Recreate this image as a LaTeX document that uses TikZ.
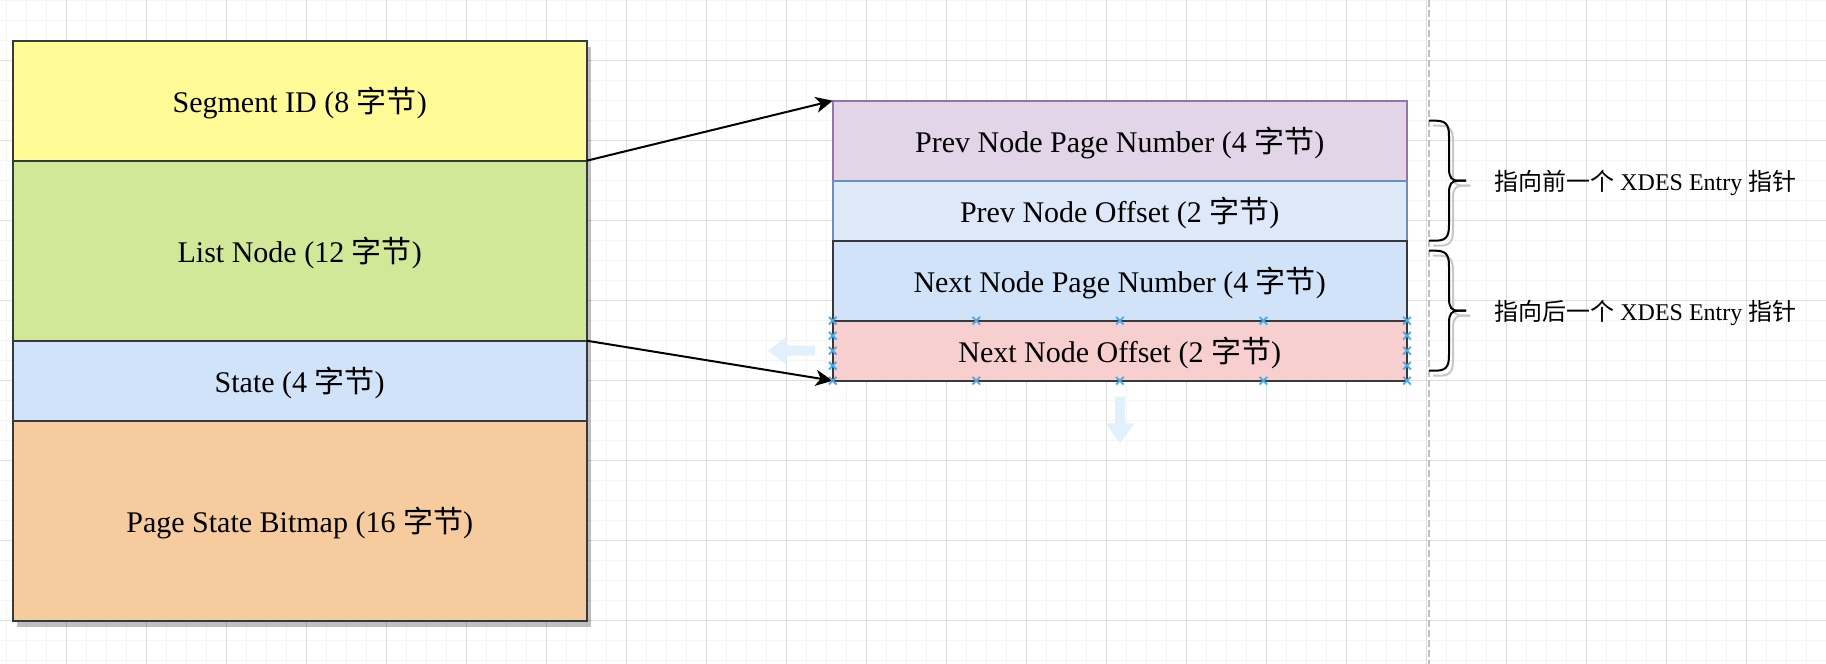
\documentclass[tikz,border=0pt]{standalone}
\usepackage{fontspec}
\setmainfont{Liberation Serif}
\newfontfamily\cjk{Noto Sans CJK SC}
\usetikzlibrary{arrows.meta}
\definecolor{edgedark}{HTML}{36393D}
\definecolor{cyellow}{HTML}{FFFC97}
\definecolor{cgreen}{HTML}{D2E899}
\definecolor{cblue}{HTML}{D0E3F9}
\definecolor{corange}{HTML}{F6CB9E}
\definecolor{cpurple}{HTML}{E1D5E7}
\definecolor{spurple}{HTML}{9673A6}
\definecolor{clblue}{HTML}{DDE8F8}
\definecolor{sblue}{HTML}{6C8EBF}
\definecolor{cred}{HTML}{F7CFCE}
\definecolor{gridmajor}{HTML}{DEDEDE}
\definecolor{gridminor}{HTML}{F4F4F4}
\definecolor{pagebreak}{HTML}{C0C0C0}
\definecolor{handle}{HTML}{4AA8EC}
\definecolor{ghost}{HTML}{E2F0FB}
\newcommand{\zh}[1]{{\cjk #1}}
\newcommand{\handlex}[2]{\draw[handlestyle] (#1-3.8,#2-3.8) -- (#1+3.8,#2+3.8) (#1-3.8,#2+3.8) -- (#1+3.8,#2-3.8);}
\begin{document}
\begin{tikzpicture}[x=0.5pt,y=-0.5pt,
  part/.style={draw=edgedark, line width=1pt, inner sep=0pt, outer sep=0pt,
    anchor=north west, minimum width=287pt, text=black,
    font=\fontsize{15}{18}\selectfont, text height=12pt, text depth=0pt},
  minorline/.style={draw=gridminor, line width=0.5pt},
  majorline/.style={draw=gridmajor, line width=0.5pt},
  link/.style={draw=black, line width=1pt, -{Stealth[length=8.5pt,width=8pt,inset=2.4pt]}},
  bracestyle/.style={draw=black, line width=1pt},
  braceshadow/.style={draw=black!22, line width=1pt},
  handlestyle/.style={draw=handle, line width=0.9pt},
  note/.style={anchor=base west, inner sep=0pt, font=\fontsize{12}{14}\selectfont, text=black}]
\useasboundingbox (0,0) rectangle (1826,664);
\fill[white] (0,0) rectangle (1826,664);
% grid
\foreach \i in {0,...,91} \draw[minorline] ({6.7+20*\i},0) -- ({6.7+20*\i},664);
\foreach \j in {0,...,33} \draw[minorline] (0,{20*\j}) -- (1826,{20*\j});
\foreach \i in {0,...,22} \draw[majorline] ({66.7+80*\i},0) -- ({66.7+80*\i},664);
\foreach \j in {0,...,7} \draw[majorline] (0,{60+80*\j}) -- (1826,{60+80*\j});
% page break line
\draw[draw=pagebreak, line width=1pt, dash pattern=on 3.4pt off 1.6pt] (1428.7,0) -- (1428.7,664);
% shadow of left box
\fill[black, opacity=0.25] (16.7,46.7) rectangle (590.7,626.7);
% left box
\node[part, fill=cyellow, minimum height=60pt] (seg) at (12.7,40.7) {Segment ID (8 \zh{字节})};
\node[part, fill=cgreen, minimum height=90pt] (list) at (seg.south west) {List Node (12 \zh{字节})};
\node[part, fill=cblue, minimum height=40pt] (state) at (list.south west) {State (4 \zh{字节})};
\node[part, fill=corange, minimum height=100pt] (bitmap) at (state.south west) {Page State Bitmap (16 \zh{字节})};
% right box
\node[part, draw=spurple, fill=cpurple, minimum height=40pt] (pnum) at (832.7,100.7) {Prev Node Page Number (4 \zh{字节})};
\node[part, draw=sblue, fill=clblue, minimum height=30pt] (poff) at (pnum.south west) {Prev Node Offset (2 \zh{字节})};
\node[part, fill=cblue, minimum height=40pt] (nnum) at (poff.south west) {Next Node Page Number (4 \zh{字节})};
\node[part, fill=cred, minimum height=30pt] (noff) at (nnum.south west) {Next Node Offset (2 \zh{字节})};
% connectors
\draw[link] (seg.south east) -- (pnum.north west);
\draw[link] (state.north east) -- (noff.south west);
% faint drag arrows
\fill[ghost] (768,350.7) -- (786.7,336.5) -- (786.7,345.7) -- (815,345.7) -- (815,355.7) -- (786.7,355.7) -- (786.7,365) -- cycle;
\fill[ghost] (1120,443.3) -- (1105.5,423.3) -- (1115,423.3) -- (1115,396.7) -- (1125,396.7) -- (1125,423.3) -- (1134.5,423.3) -- cycle;
% selection handles
\foreach \x in {832.7,976.3,1119.9,1263.4,1407} {\handlex{\x}{320.7}\handlex{\x}{380.7}}
\foreach \y in {335.7,350.7,365.7} {\handlex{832.7}{\y}\handlex{1407}{\y}}
% braces
\foreach \t/\sty in {125.7/braceshadow,120.7/bracestyle} {
  \pgfmathsetmacro{\dx}{\t==125.7 ? 4 : 0}
  \begin{scope}[shift={(\dx,\t)}]
    \draw[\sty] (1429,0) -- (1436,0) .. controls (1449,0) and (1449,8) .. (1449,18) -- (1449,48) .. controls (1449,57) and (1452,60) .. (1458,60) -- (1466,60);
    \draw[\sty] (1466,60) -- (1458,60) .. controls (1452,60) and (1449,63) .. (1449,72) -- (1449,102) .. controls (1449,112) and (1449,120) .. (1436,120) -- (1429,120);
  \end{scope}
  \begin{scope}[shift={(\dx,\t+130)}]
    \draw[\sty] (1429,0) -- (1436,0) .. controls (1449,0) and (1449,8) .. (1449,18) -- (1449,48) .. controls (1449,57) and (1452,60) .. (1458,60) -- (1466,60);
    \draw[\sty] (1466,60) -- (1458,60) .. controls (1452,60) and (1449,63) .. (1449,72) -- (1449,102) .. controls (1449,112) and (1449,120) .. (1436,120) -- (1429,120);
  \end{scope}
}
\coordinate (brace1) at (1466,180.7);
\coordinate (brace2) at (1466,310.7);
\node[note] (prevnote) at ([xshift=14pt,yshift=-4.7pt]brace1) {\zh{指向前一个} XDES Entry \zh{指针}};
\node[note] (nextnote) at ([xshift=14pt,yshift=-4.7pt]brace2) {\zh{指向后一个} XDES Entry \zh{指针}};
\end{tikzpicture}
\end{document}
